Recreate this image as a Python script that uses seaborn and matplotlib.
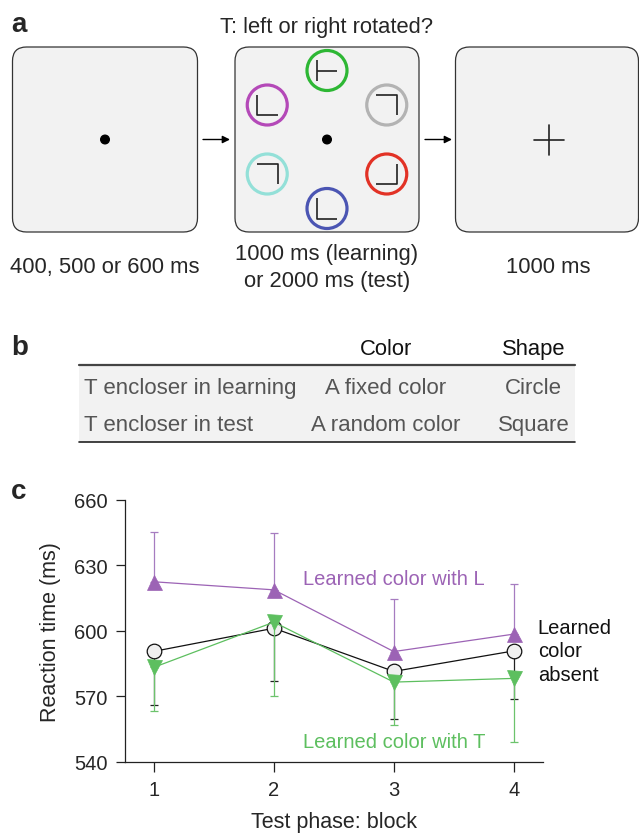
import numpy as np
import seaborn as sns
import matplotlib.pyplot as plt
from matplotlib.patches import Circle, FancyBboxPatch, Rectangle

# ---- data ----
# panel a: stimulus frames
frame_labels = [['400, 500 or 600 ms'], ['1000 ms (learning)', 'or 2000 ms (test)'], ['1000 ms']]
task_title = 'T: left or right rotated?'
encl_colors = ['#2db734', '#b449b8', '#93e0d8', '#4b55b3', '#e23226', '#b3b3b3']
encl_angles = [90, 150, 210, 270, 330, 30]
encl_glyphs = ['T', 'L', 'L180', 'L', 'Lr', 'L180']

# panel b: table
tab_header = ['Color', 'Shape']
tab_rows = ['T encloser in learning', 'T encloser in test']
tab_color = ['A fixed color', 'A random color']
tab_shape = ['Circle', 'Square']

# panel c: reaction times
blocks = [1, 2, 3, 4]
rt_L = [622.5, 618.8, 590.5, 598.5]
rt_L_err = [22.7, 26.1, 24.1, 22.8]
rt_absent = [590.6, 601.2, 581.4, 590.8]
rt_absent_err = [24.5, 24.0, 21.8, 22.2]
rt_T = [583.3, 604.0, 576.5, 578.2]
rt_T_err = [19.9, 34.0, 19.7, 29.0]

purple = '#9c63b5'
green = '#5dbf5f'

sns.set_theme(style='ticks')
plt.rcParams['font.family'] = ['Liberation Sans', 'DejaVu Sans']

fig = plt.figure(figsize=(6.39, 8.37), dpi=100)

# overlay axes in pixel coordinates for panels a and b
ax0 = fig.add_axes([0, 0, 1, 1])
ax0.set_xlim(0, 639)
ax0.set_ylim(837, 0)
ax0.axis('off')

# ---- panel a ----
ax0.text(11, 31.5, 'a', fontsize=20, fontweight='bold', va='baseline')
ax0.text(327, 33, task_title, fontsize=15.8, ha='center', va='baseline')

frame_cx = [105, 327, 547]
frame_w = [185, 184, 183]
for cx, w in zip(frame_cx, frame_w):
    ax0.add_patch(FancyBboxPatch((cx - w / 2, 48), w, 185,
                                 boxstyle='round,pad=0,rounding_size=14',
                                 fc='#f2f2f2', ec='#333333', lw=0.9))

# labels under the frames, one text per line
label_base = [[273], [260, 286.5], [273]]
label_x = [105, 327, 548]
for x, lines, bases in zip(label_x, frame_labels, label_base):
    for line, yb in zip(lines, bases):
        ax0.text(x, yb, line, fontsize=15.8, ha='center', va='baseline')

# fixation dots
for cx in [105, 327]:
    ax0.add_patch(Circle((cx, 140.5), 4.3, color='black'))

# arrows
for x0, x1 in [(203, 230), (425, 452)]:
    ax0.annotate('', xy=(x1, 140.5), xytext=(x0, 140.5),
                 arrowprops=dict(arrowstyle='-|>', lw=1.0, color='black',
                                 mutation_scale=11, shrinkA=0, shrinkB=0))

# cross
ax0.plot([534, 564], [140.5, 140.5], color='#222222', lw=1.2)
ax0.plot([548.7, 548.7], [125.5, 155.5], color='#222222', lw=1.2)

glyph_paths = {
    'L': [[(-1, -1), (-1, 1), (1, 1)]],
    'L180': [[(-1, -1), (1, -1), (1, 1)]],
    'Lr': [[(1, -1), (1, 1), (-1, 1)]],
    'T': [[(-1, -1), (-1, 1)], [(-1, 0), (1, 0)]],
}
r_ring = 69
hs = 10.3
for col, ang, g in zip(encl_colors, encl_angles, encl_glyphs):
    cx = 327 + r_ring * np.cos(np.radians(ang))
    cy = 140.5 - r_ring * np.sin(np.radians(ang))
    ax0.add_patch(Circle((cx, cy), 20, fill=False, ec=col, lw=2.3))
    for seg in glyph_paths[g]:
        xs = [cx + hs * p[0] for p in seg]
        ys = [cy + hs * p[1] for p in seg]
        ax0.plot(xs, ys, color='#222222', lw=1.2, solid_capstyle='butt')

# ---- panel b ----
ax0.text(11, 355, 'b', fontsize=20, fontweight='bold', va='baseline')
col_x = [385.7, 533.5]
for x, h in zip(col_x, tab_header):
    ax0.text(x, 354.5, h, fontsize=15.8, ha='center', va='baseline', color='#111111')
ax0.add_patch(Rectangle((79, 366), 496, 77, fc='#f2f2f2', ec='none'))
ax0.plot([79, 575], [366, 366], color='#444444', lw=1.6)
ax0.plot([79, 575], [443, 443], color='#222222', lw=1.2)
row_y = [394, 431]
for y, lab, c, s in zip(row_y, tab_rows, tab_color, tab_shape):
    ax0.text(84, y, lab, fontsize=16, ha='left', va='baseline', color='#555555')
    ax0.text(col_x[0], y, c, fontsize=16, ha='center', va='baseline', color='#555555')
    ax0.text(col_x[1], y, s, fontsize=16, ha='center', va='baseline', color='#555555')

# ---- panel c ----
ax0.text(11, 499, 'c', fontsize=20, fontweight='bold', va='baseline')

ax = fig.add_axes([124.5 / 639, 1 - 762.7 / 837, (543.3 - 124.5) / 639, (762.7 - 501) / 837])
ax.patch.set_alpha(0)
zeros = [0] * len(blocks)

ax.errorbar(blocks, rt_absent, yerr=[rt_absent_err, zeros], fmt='none', ecolor='#222222',
            elinewidth=0.9, capsize=3.1, capthick=0.9, zorder=1)
sns.lineplot(x=blocks, y=rt_absent, ax=ax, color='#111111', lw=0.9, marker='o',
             markersize=10.5, markerfacecolor='#f0f0f0', markeredgecolor='#111111',
             markeredgewidth=0.9, zorder=2)

ax.errorbar(blocks, rt_T, yerr=[rt_T_err, zeros], fmt='none', ecolor='#6cc36c',
            elinewidth=0.9, capsize=3.1, capthick=0.9, zorder=3)
sns.lineplot(x=blocks, y=rt_T, ax=ax, color=green, lw=0.9, marker='v',
             markersize=10.8, markerfacecolor=green, markeredgecolor=green,
             markeredgewidth=0.5, zorder=4)

ax.errorbar(blocks, rt_L, yerr=[zeros, rt_L_err], fmt='none', ecolor='#a67cc0',
            elinewidth=0.9, capsize=3.1, capthick=0.9, zorder=3)
sns.lineplot(x=blocks, y=rt_L, ax=ax, color=purple, lw=0.9, marker='^',
             markersize=10.8, markerfacecolor=purple, markeredgecolor=purple,
             markeredgewidth=0.5, zorder=4)

ax.set_xlim(0.754, 4.247)
ax.set_ylim(540, 660)
ax.set_yticks([540, 570, 600, 630, 660])
ax.set_xticks(blocks)
sns.despine(ax=ax)
for sp in ['left', 'bottom']:
    ax.spines[sp].set_linewidth(0.9)
    ax.spines[sp].set_color('#222222')
ax.tick_params(axis='y', length=6.8, width=0.9, pad=5.5, labelsize=14.5, color='#222222')
ax.tick_params(axis='x', length=7, width=0.9, pad=6, labelsize=14.5, color='#222222')
ax.set_ylabel('Reaction time (ms)', fontsize=15.5, labelpad=9)
ax.set_xlabel('Test phase: block', fontsize=15.5, labelpad=9)

ax.text(2.24, 621.5, 'Learned color with L', color=purple, fontsize=14.5, va='baseline')
ax.text(2.24, 546.6, 'Learned color with T', color=green, fontsize=14.5, va='baseline')
ax.text(4.2, 606, 'Learned\ncolor\nabsent', color='#111111', fontsize=14.5, va='top',
        linespacing=1.3, clip_on=False)

fig.savefig('out.png', dpi=100)
